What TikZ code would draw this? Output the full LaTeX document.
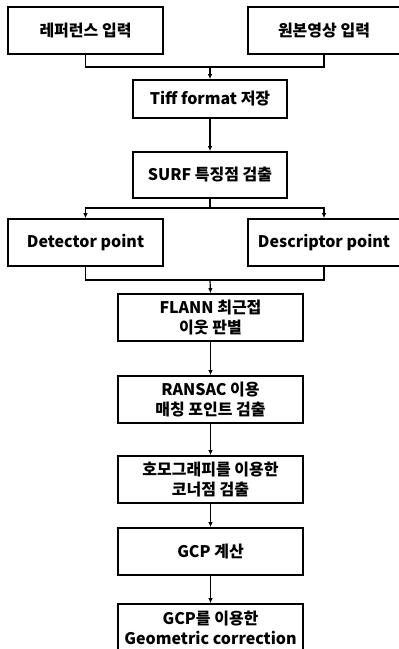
\documentclass[tikz,border=0pt]{standalone}
\usepackage{fontspec}
\setmainfont{Noto Sans CJK KR}
\usetikzlibrary{arrows.meta}

\tikzset{
  stepbox/.style={draw, line width=1.6pt, align=center, inner sep=0pt,
    font=\fontsize{16}{20.5}\selectfont\bfseries},
  flow/.style={line width=1.2pt},
  flowarrow/.style={flow, -{Latex[length=5pt,width=4.5pt]}}
}

\begin{document}
\begin{tikzpicture}[x=1pt, y=-1pt]
  \useasboundingbox (0,0) rectangle (399,649);
  % inputs
  \node[stepbox, minimum width=155pt, minimum height=47pt] (ref) at (85.5,30.5) {레퍼런스 입력};
  \node[stepbox, minimum width=152pt, minimum height=47pt] (src) at (324,30.5) {원본영상 입력};
  \node[stepbox, minimum width=154pt, minimum height=38pt] (tiff) at (210,99) {Tiff format 저장};
  \node[stepbox, minimum width=154pt, minimum height=46pt] (surf) at (210,175) {SURF 특징점 검출};
  % feature outputs
  \node[stepbox, minimum width=155pt, minimum height=47pt] (det) at (85.5,242.5) {Detector point};
  \node[stepbox, minimum width=152pt, minimum height=47pt] (desc) at (324,242.5) {Descriptor point};
  % matching chain
  \node[stepbox, minimum width=185pt, minimum height=47pt] (flann) at (210.5,317.5) {FLANN 최근접\\이웃 판별};
  \node[stepbox, minimum width=185pt, minimum height=47pt] (ransac) at (210.5,399.5) {RANSAC 이용\\매칭 포인트 검출};
  \node[stepbox, minimum width=185pt, minimum height=47pt] (homo) at (210.5,479.5) {호모그래피를 이용한\\코너점 검출};
  \node[stepbox, minimum width=185pt, minimum height=47pt] (gcp) at (210.5,551.5) {GCP 계산};
  \node[stepbox, minimum width=185pt, minimum height=48pt] (corr) at (210.5,628) {GCP를 이용한\\Geometric correction};
  % joints
  \coordinate (j1) at (210,67);
  \coordinate (j2) at (210,208);
  \coordinate (j3) at (210,280);
  % connectors
  \draw[flow] (ref.south) |- (j1) -| (src.south);
  \draw[flowarrow] (j1) -- (tiff.north);
  \draw[flowarrow] (tiff.south) -- (surf.north);
  \draw[flow] (surf.south) -- (j2);
  \draw[flowarrow] (j2) -| (det.north);
  \draw[flowarrow] (j2) -| (desc.north);
  \draw[flow] (det.south) |- (j3) -| (desc.south);
  \draw[flowarrow] (j3) -- (flann.north);
  \draw[flowarrow] (flann.south) -- (ransac.north);
  \draw[flowarrow] (ransac.south) -- (homo.north);
  \draw[flowarrow] (homo.south) -- (gcp.north);
  \draw[flowarrow] (gcp.south) -- (corr.north);
\end{tikzpicture}
\end{document}
